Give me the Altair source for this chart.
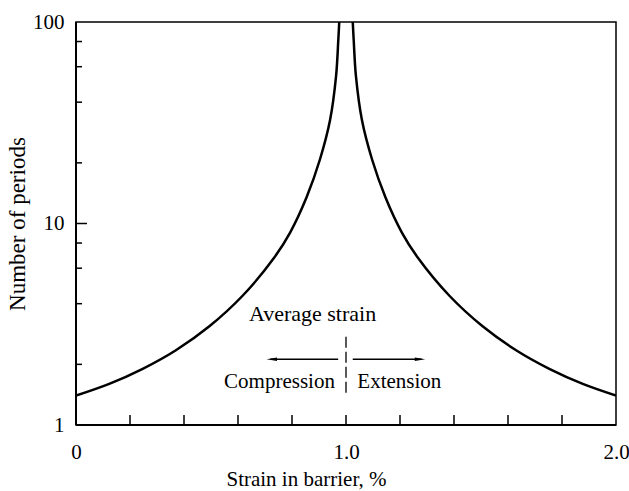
import altair as alt
import pandas as pd

# Left branch (compression side)
left_x = [0.0, 0.123, 0.247, 0.370, 0.494, 0.617, 0.733, 0.793, 0.854, 0.904, 0.941, 0.963, 0.9715, 0.975]
left_n = [1.40, 1.60, 1.90, 2.35, 3.09, 4.38, 6.74, 9.02, 13.5, 20.9, 32.6, 53.5, 81.4, 100.0]
# Right branch (extension side) (mirror image of the left)
right_x = [1.025, 1.0285, 1.037, 1.059, 1.096, 1.146, 1.207, 1.267, 1.383, 1.506, 1.630, 1.753, 1.877, 2.0]
right_n = [100.0, 81.4, 53.5, 32.6, 20.9, 13.5, 9.02, 6.74, 4.38, 3.09, 2.35, 1.90, 1.60, 1.40]

x_minor_ticks = [0.2, 0.4, 0.6, 0.8, 1.0, 1.2, 1.4, 1.6, 1.8]
y_major_ticks = [10]
y_minor_ticks = [2, 4, 6, 8, 20, 40, 60, 80]
x_labels = [0, 1, 2]
y_labels = [1, 10, 100]

FONT = "Liberation Serif"
FS = 21

W, H = 540, 403

curve = pd.DataFrame(
    {"x": left_x + right_x,
     "n": left_n + right_n,
     "branch": ["left"] * len(left_x) + ["right"] * len(right_x)}
)

xs = alt.Scale(domain=[0, 2], nice=False, zero=False)
ys = alt.Scale(type="log", domain=[1, 100], nice=False)

one = pd.DataFrame({"a": [0]})

line = alt.Chart(curve).mark_line(color="black", strokeWidth=2.5, interpolate="catmull-rom", clip=True).encode(
    x=alt.X("x:Q", scale=xs,
            axis=alt.Axis(values=x_labels, title="Strain in barrier, %",
                          labelExpr="datum.value == 0 ? '0' : format(datum.value, '.1f')",
                          ticks=False, domain=False, grid=False, labelPadding=16,
                          labelFlush=False, titlePadding=6, titleX=230)),
    y=alt.Y("n:Q", scale=ys,
            axis=alt.Axis(values=y_labels, title="Number of periods", format="d",
                          ticks=False, domain=False, grid=False, labelPadding=12,
                          titleFontSize=23, titlePadding=3)),
    detail="branch:N",
)

xt = alt.Chart(pd.DataFrame({"x": x_minor_ticks})).mark_rule(color="black", strokeWidth=1.5).encode(
    x=alt.X("x:Q", scale=xs), y=alt.value(H), y2=alt.value(H - 10))

ytm = alt.Chart(pd.DataFrame({"y": y_major_ticks})).mark_rule(color="black", strokeWidth=1.5).encode(
    y=alt.Y("y:Q", scale=ys), x=alt.value(0), x2=alt.value(11))

ytn = alt.Chart(pd.DataFrame({"y": y_minor_ticks})).mark_rule(color="black", strokeWidth=1.5).encode(
    y=alt.Y("y:Q", scale=ys), x=alt.value(0), x2=alt.value(6))

# left & bottom axis lines (thicker)
axl = alt.Chart(one).mark_rule(color="black", strokeWidth=2).encode(
    x=alt.value(0), y=alt.value(0), y2=alt.value(H))
axb = alt.Chart(one).mark_rule(color="black", strokeWidth=2).encode(
    x=alt.value(0), x2=alt.value(W), y=alt.value(H))

# annotations
dash = alt.Chart(one).mark_rule(color="black", strokeWidth=1.3, strokeDash=[11, 4]).encode(
    x=alt.X(datum=1.0, scale=xs), y=alt.Y(datum=2.74, scale=ys), y2=alt.Y2(datum=1.41))

arr_l = alt.Chart(one).mark_rule(color="black", strokeWidth=1.3).encode(
    x=alt.X(datum=0.72, scale=xs), x2=alt.X2(datum=0.971), y=alt.Y(datum=2.12, scale=ys))
arr_r = alt.Chart(one).mark_rule(color="black", strokeWidth=1.3).encode(
    x=alt.X(datum=1.025, scale=xs), x2=alt.X2(datum=1.28), y=alt.Y(datum=2.12, scale=ys))
head_l = alt.Chart(one).mark_point(
    shape="M -1 0 L 1 -0.35 L 1 0.35 Z", filled=True, color="black", opacity=1, size=110
).encode(x=alt.X(datum=0.725, scale=xs), y=alt.Y(datum=2.12, scale=ys))
head_r = alt.Chart(one).mark_point(
    shape="M 1 0 L -1 -0.35 L -1 0.35 Z", filled=True, color="black", opacity=1, size=110
).encode(x=alt.X(datum=1.274, scale=xs), y=alt.Y(datum=2.12, scale=ys))

t_avg = alt.Chart(one).mark_text(
    text="Average strain", font=FONT, fontSize=22, align="center", baseline="middle", color="black"
).encode(x=alt.X(datum=0.876, scale=xs), y=alt.Y(datum=3.56, scale=ys))
t_comp = alt.Chart(one).mark_text(
    text="Compression", font=FONT, fontSize=FS, align="right", baseline="middle", color="black"
).encode(x=alt.X(datum=0.959, scale=xs), y=alt.Y(datum=1.635, scale=ys))
t_ext = alt.Chart(one).mark_text(
    text="Extension", font=FONT, fontSize=FS, align="left", baseline="middle", color="black"
).encode(x=alt.X(datum=1.042, scale=xs), y=alt.Y(datum=1.635, scale=ys))

chart = alt.layer(
    line, xt, ytm, ytn, axl, axb, dash, arr_l, arr_r, head_l, head_r, t_avg, t_comp, t_ext
).properties(
    width=W, height=H,
    autosize=alt.AutoSizeParams(type="none"),
    padding={"left": 76, "top": 22, "right": 13, "bottom": 66},
    background="white",
).configure_view(
    stroke="black", strokeWidth=1.5
).configure_axis(
    labelFont=FONT, titleFont=FONT, labelFontSize=FS, titleFontSize=FS,
    labelColor="black", titleColor="black", titleFontWeight="normal",
)

chart.save("out.html", embed_options={"renderer": "svg", "actions": False})
